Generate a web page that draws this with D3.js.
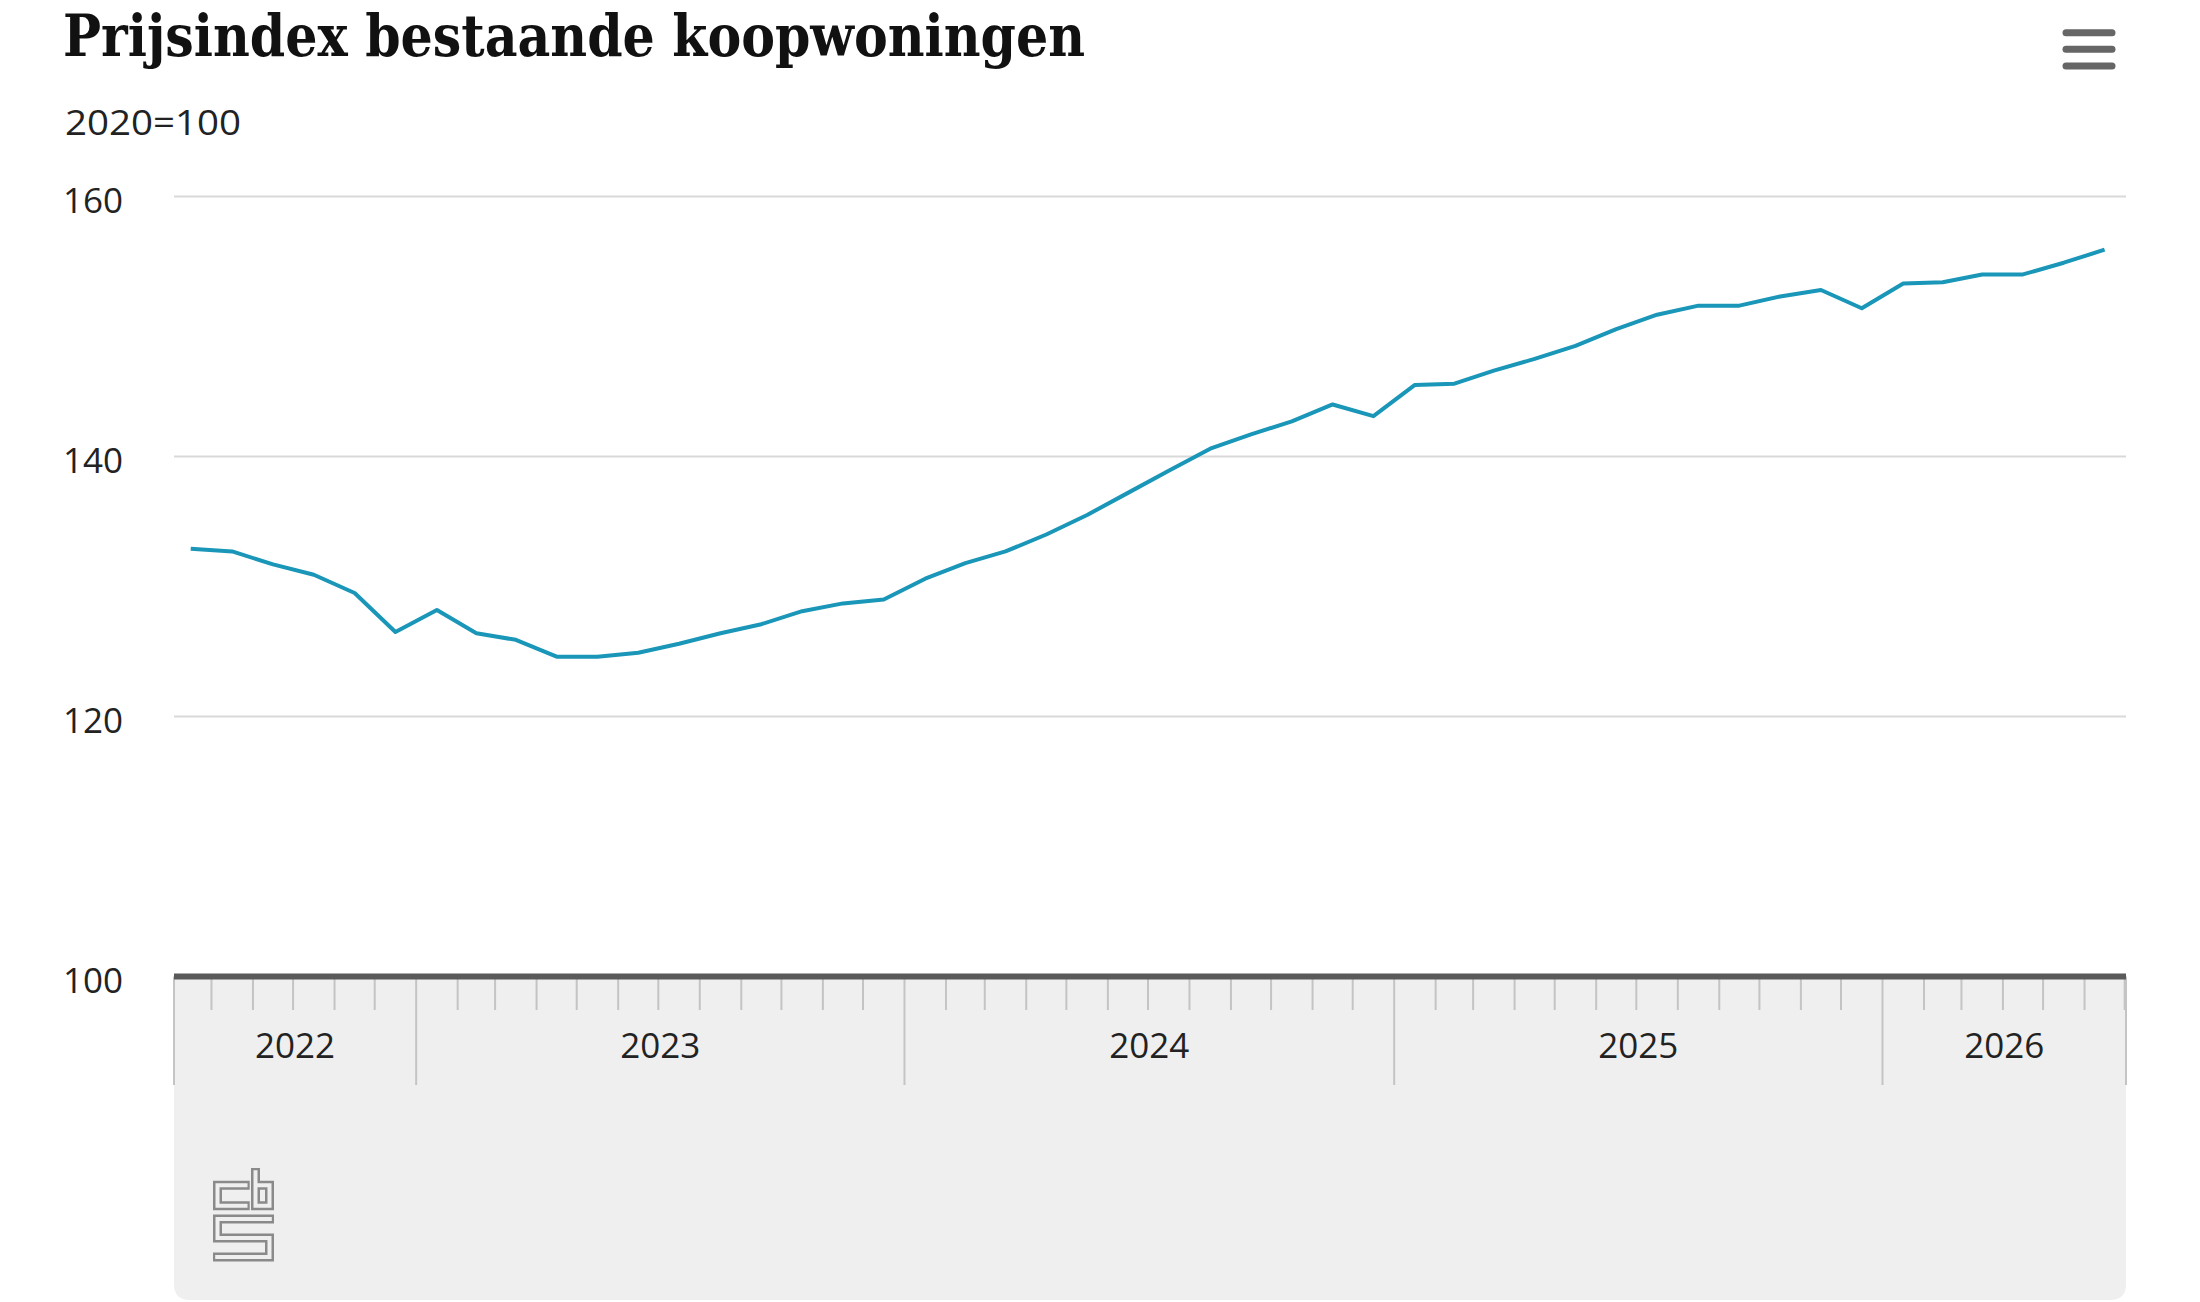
<!DOCTYPE html>
<html>
<head>
<meta charset="utf-8">
<script src="https://cdn.jsdelivr.net/npm/d3@7"></script>
<style>
  html, body { margin: 0; padding: 0; background: #fff; }
  svg { display: block; }
</style>
</head>
<body>
<svg id="chart" width="2200" height="1302"></svg>
<script>
const title = "Prijsindex bestaande koopwoningen";
const subtitle = "2020=100";
const months = [
  "2022-07","2022-08","2022-09","2022-10","2022-11","2022-12",
  "2023-01","2023-02","2023-03","2023-04","2023-05","2023-06",
  "2023-07","2023-08","2023-09","2023-10","2023-11","2023-12",
  "2024-01","2024-02","2024-03","2024-04","2024-05","2024-06",
  "2024-07","2024-08","2024-09","2024-10","2024-11","2024-12",
  "2025-01","2025-02","2025-03","2025-04","2025-05","2025-06",
  "2025-07","2025-08","2025-09","2025-10","2025-11","2025-12",
  "2026-01","2026-02","2026-03","2026-04","2026-05","2026-06"
];
const values = [
  132.9,132.7,131.7,130.9,129.5,126.5,
  128.2,126.4,125.9,124.6,124.6,124.9,
  125.6,126.4,127.1,128.1,128.7,129.0,
  130.6,131.8,132.7,134.0,135.5,137.2,
  138.9,140.6,141.7,142.7,144.0,143.1,
  145.5,145.6,146.6,147.5,148.5,149.8,
  150.9,151.6,151.6,152.3,152.8,151.4,
  153.3,153.4,154.0,154.0,154.9,155.9
];
const yTicks = [100, 120, 140, 160];
const axisStart = "2022-07-04";
const axisEnd = "2026-07-02";

const svg = d3.select("#chart");
const parseMonth = d3.timeParse("%Y-%m");
const parseDay = d3.timeParse("%Y-%m-%d");

const L = 174, R = 2126, T = 196.4, B = 976.6;
const x = d3.scaleTime().domain([parseDay(axisStart), parseDay(axisEnd)]).range([L, R]);
const y = d3.scaleLinear().domain([100, 160]).range([B, T]);

const sansFont = "'Open Sans', 'Noto Sans', sans-serif";

// Title
svg.append("text")
  .attr("x", 63).attr("y", 56)
  .attr("font-family", "'DejaVu Serif Condensed', 'DejaVu Serif', serif")
  .attr("font-weight", "bold")
  .attr("font-size", 58)
  .attr("fill", "#111")
  .attr("textLength", 1022).attr("lengthAdjust", "spacingAndGlyphs")
  .text(title);

// Subtitle
svg.append("text")
  .attr("x", 65).attr("y", 135)
  .attr("font-family", sansFont)
  .attr("font-size", 35)
  .attr("fill", "#222")
  .attr("textLength", 176).attr("lengthAdjust", "spacingAndGlyphs")
  .text(subtitle);

// Menu icon
const menu = svg.append("g").attr("stroke", "#666").attr("stroke-width", 7).attr("stroke-linecap", "round");
[32.7, 49.3, 66].forEach(yy => {
  menu.append("line").attr("x1", 2066).attr("x2", 2112).attr("y1", yy).attr("y2", yy);
});

// Gray band below the axis
const bandTop = B;
const bandBottom = 1300;
const rr = 16;
svg.append("path")
  .attr("d", `M${L},${bandTop} H${R} V${bandBottom - rr} Q${R},${bandBottom} ${R - rr},${bandBottom} H${L + rr} Q${L},${bandBottom} ${L},${bandBottom - rr} Z`)
  .attr("fill", "#efefef");

// Gridlines
svg.append("g").selectAll("line")
  .data(yTicks.filter(v => v > 100))
  .join("line")
  .attr("x1", L).attr("x2", R)
  .attr("y1", d => y(d)).attr("y2", d => y(d))
  .attr("stroke", "#d9d9d9").attr("stroke-width", 2);

// Y tick labels
svg.append("g").selectAll("text")
  .data(yTicks)
  .join("text")
  .attr("x", 63)
  .attr("y", d => y(d) + 16.5)
  .attr("font-family", sansFont)
  .attr("font-size", 35)
  .attr("fill", "#222")
  .text(d => d);

// Month ticks
const monthTicks = x.ticks(d3.timeMonth.every(1)).filter(d => d.getMonth() !== 0 && +d > +x.domain()[0] && +d < +x.domain()[1]);
svg.append("g").selectAll("line")
  .data(monthTicks)
  .join("line")
  .attr("x1", d => x(d)).attr("x2", d => x(d))
  .attr("y1", B).attr("y2", 1010)
  .attr("stroke", "#c4c4c4").attr("stroke-width", 2);

// Year separators + edges
const yearStarts = d3.timeYear.range(d3.timeYear.ceil(x.domain()[0]), x.domain()[1]);
const sepXs = [x.domain()[0], ...yearStarts, x.domain()[1]];
svg.append("g").selectAll("line")
  .data(sepXs)
  .join("line")
  .attr("x1", d => x(d)).attr("x2", d => x(d))
  .attr("y1", B).attr("y2", 1085)
  .attr("stroke", "#c4c4c4").attr("stroke-width", 2);

// Year labels centred in the visible part of each year
const yearLabels = [];
for (let i = 0; i < sepXs.length - 1; i++) {
  yearLabels.push({ from: sepXs[i], to: sepXs[i + 1], label: String(sepXs[i].getFullYear()) });
}
svg.append("g").selectAll("text")
  .data(yearLabels)
  .join("text")
  .attr("x", d => (x(d.from) + x(d.to)) / 2)
  .attr("y", 1058)
  .attr("text-anchor", "middle")
  .attr("font-family", sansFont)
  .attr("font-size", 35)
  .attr("fill", "#222")
  .text(d => d.label);

// Axis line
svg.append("line")
  .attr("x1", L).attr("x2", R)
  .attr("y1", B).attr("y2", B)
  .attr("stroke", "#5a5a5a").attr("stroke-width", 6);

// Data line (points at month midpoints)
const data = months.map((m, i) => {
  const s = parseMonth(m);
  const e = d3.timeMonth.offset(s, 1);
  return { start: s, end: e, value: values[i] };
});
const line = d3.line()
  .x(d => (x(d.start) + x(d.end)) / 2)
  .y(d => y(d.value));
svg.append("path")
  .datum(data)
  .attr("d", line)
  .attr("fill", "none")
  .attr("stroke", "#1996b8")
  .attr("stroke-width", 4)
  .attr("stroke-linejoin", "round");

// CBS logo (outlined strokes)
const logo = svg.append("g").attr("transform", "translate(213,1168)").attr("fill", "none");
const logoPaths = [
  "M36.7,17.3 H4.5 V37.7 H36.7",
  "M42.5,0 V37.7 H56.5 V17.3 H42.5",
  "M61,51 H4.5 V70 H56.5 V89 H0"
];
const innerPaths = [
  "M34.5,17.3 H4.5 V37.7 H34.5",
  "M42.5,2.2 V37.7 H56.5 V17.3 H42.5",
  "M58.8,51 H4.5 V70 H56.5 V89 H2.2"
];
logo.selectAll("path.o").data(logoPaths).join("path")
  .attr("class", "o").attr("d", d => d)
  .attr("stroke", "#8a8a8a").attr("stroke-width", 9).attr("stroke-linecap", "butt").attr("stroke-linejoin", "miter");
logo.selectAll("path.i").data(innerPaths).join("path")
  .attr("class", "i").attr("d", d => d)
  .attr("stroke", "#efefef").attr("stroke-width", 4).attr("stroke-linecap", "butt").attr("stroke-linejoin", "miter");
</script>
</body>
</html>
